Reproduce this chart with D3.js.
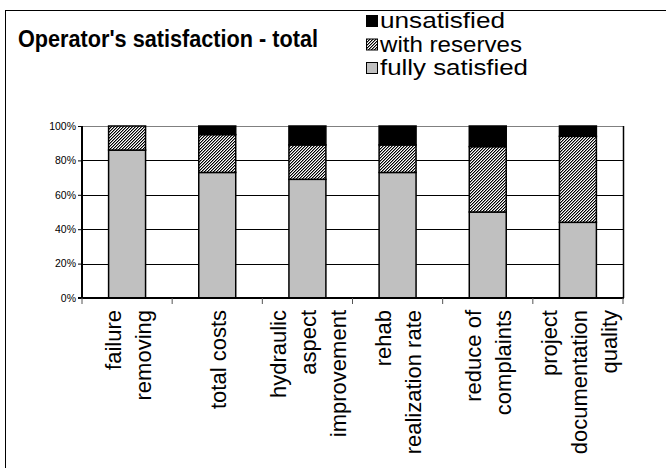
<!DOCTYPE html>
<html>
<head>
<meta charset="utf-8">
<script src="https://cdn.jsdelivr.net/npm/d3@7/dist/d3.min.js"></script>
<style>
  html, body { margin: 0; padding: 0; background: #fff; }
  svg { display: block; font-family: "Liberation Sans", Arial, sans-serif; }
</style>
</head>
<body>
<svg id="chart" width="666" height="468"></svg>
<script>
// Survey categories (multi-line labels)
const categories = [
  ["failure", "removing"],
  ["total costs"],
  ["hydraulic", "aspect", "improvement"],
  ["rehab", "realization rate"],
  ["reduce of", "complaints"],
  ["project", "documentation", "quality"]
];
// Share of answers per category, in percent
const fullySatisfied = [86, 73, 69, 73, 50, 44];
const withReserves   = [14, 22, 20, 16, 38, 50];
const unsatisfied    = [0, 5, 11, 11, 12, 6];
const seriesNames = ["fully satisfied", "with reserves", "unsatisfied"];
const yTicks = [0, 20, 40, 60, 80, 100];

const svg = d3.select("#chart");

// fine diagonal hatch for "with reserves"
const defs = svg.append("defs");
const pat = defs.append("pattern")
  .attr("id", "hatch").attr("patternUnits", "userSpaceOnUse")
  .attr("width", 3).attr("height", 3);
pat.append("rect").attr("width", 3).attr("height", 3).attr("fill", "#fff");
for (let px = 0; px < 3; px++) {
  for (let py = 0; py < 3; py++) {
    const k = (px + py) % 3;
    if (k < 2) {
      pat.append("rect").attr("x", px).attr("y", py).attr("width", 1).attr("height", 1)
        .attr("fill", k === 0 ? "#000" : "#8a8a8a").attr("shape-rendering", "crispEdges");
    }
  }
}

// outer frame
svg.append("rect").attr("x", 5.5).attr("y", 10.5)
  .attr("width", 700).attr("height", 500)
  .attr("fill", "none").attr("stroke", "#000").attr("stroke-width", 1);

// title
svg.append("text").attr("x", 18).attr("y", 47)
  .attr("font-size", 23).attr("font-weight", "bold")
  .attr("textLength", 300).attr("lengthAdjust", "spacingAndGlyphs")
  .text("Operator's satisfaction - total");

// legend
const legendItems = [
  { name: seriesNames[2], fill: "#000", w: 125 },
  { name: seriesNames[1], fill: "url(#hatch)", w: 142 },
  { name: seriesNames[0], fill: "#c0c0c0", w: 148 }
];
const lg = svg.append("g");
legendItems.forEach((d, i) => {
  const yb = 28 + i * 23.5;
  lg.append("rect").attr("x", 366.5).attr("y", yb - 12.5).attr("width", 11).attr("height", 11)
    .attr("fill", d.fill).attr("stroke", "#000").attr("stroke-width", 1);
  lg.append("text").attr("x", 380).attr("y", yb).attr("font-size", 22)
    .attr("textLength", d.w).attr("lengthAdjust", "spacingAndGlyphs")
    .text(d.name);
});

// plot area
const x0 = 82, x1 = 623, yTop = 126, yBot = 298;
const x = d3.scaleBand().domain(d3.range(categories.length))
  .range([x0, x1]).paddingInner(0.59).paddingOuter(0.295);
const y = d3.scaleLinear().domain([0, 100]).range([yBot, yTop]);

// gridlines
svg.append("g").selectAll("line").data(yTicks.filter(t => t > 0)).join("line")
  .attr("x1", x0).attr("x2", x1)
  .attr("y1", d => Math.round(y(d)) + 0.5).attr("y2", d => Math.round(y(d)) + 0.5)
  .attr("stroke", d => d === 100 ? "#808080" : "#000").attr("stroke-width", 1);
// right border of plot area
svg.append("line").attr("x1", x1 + 0.5).attr("x2", x1 + 0.5).attr("y1", yTop).attr("y2", yBot)
  .attr("stroke", "#000").attr("stroke-width", 1.5);

// stacked bars
const rows = categories.map((c, i) => ({
  i, full: fullySatisfied[i], reserves: withReserves[i], unsat: unsatisfied[i]
}));
const stack = d3.stack().keys(["full", "reserves", "unsat"]);
const fills = { full: "#c0c0c0", reserves: "url(#hatch)", unsat: "#000" };
const layers = stack(rows);
svg.append("g").selectAll("g").data(layers).join("g")
  .attr("fill", d => fills[d.key])
  .selectAll("rect").data(d => d.filter(p => p[1] - p[0] > 0)).join("rect")
  .attr("x", d => x(d.data.i))
  .attr("width", x.bandwidth())
  .attr("y", d => y(d[1]))
  .attr("height", d => y(d[0]) - y(d[1]))
  .attr("stroke", "#000").attr("stroke-width", 1.5);

// y axis
const yAxis = d3.axisLeft(y).tickValues(yTicks).tickSize(4).tickFormat(d => d + "%");
const ya = svg.append("g").attr("transform", `translate(${x0},0)`).call(yAxis);
ya.select(".domain").remove();
ya.selectAll(".tick line").attr("stroke", "#000");
ya.selectAll(".tick text").attr("font-size", 10.5).attr("font-family", "Liberation Sans, Arial, sans-serif")
  .attr("fill", "#000").attr("x", -6);
svg.append("line").attr("x1", x0).attr("x2", x0).attr("y1", yTop).attr("y2", yBot + 1)
  .attr("stroke", "#000").attr("stroke-width", 2);

// x axis line and category separators
svg.append("line").attr("x1", x0 - 4).attr("x2", x1 + 1).attr("y1", yBot).attr("y2", yBot)
  .attr("stroke", "#000").attr("stroke-width", 2);
const step = x.step();
svg.append("g").selectAll("line").data(d3.range(categories.length + 1)).join("line")
  .attr("x1", i => x0 + i * step).attr("x2", i => x0 + i * step)
  .attr("y1", yBot).attr("y2", yBot + 6)
  .attr("stroke", "#555").attr("stroke-width", 1);

// rotated category labels
const lineGap = 30;
const lab = svg.append("g").selectAll("g").data(categories).join("g")
  .attr("transform", (d, i) => `translate(${x(i) + x.bandwidth() / 2 + 1},310) rotate(-90)`);
lab.each(function (lines) {
  const g = d3.select(this);
  const n = lines.length;
  lines.forEach((t, k) => {
    g.append("text")
      .attr("x", 0)
      .attr("y", (k - (n - 1) / 2) * lineGap)
      .attr("dy", "0.35em")
      .attr("text-anchor", "end")
      .attr("font-size", 22)
      .text(t);
  });
});
</script>
</body>
</html>
